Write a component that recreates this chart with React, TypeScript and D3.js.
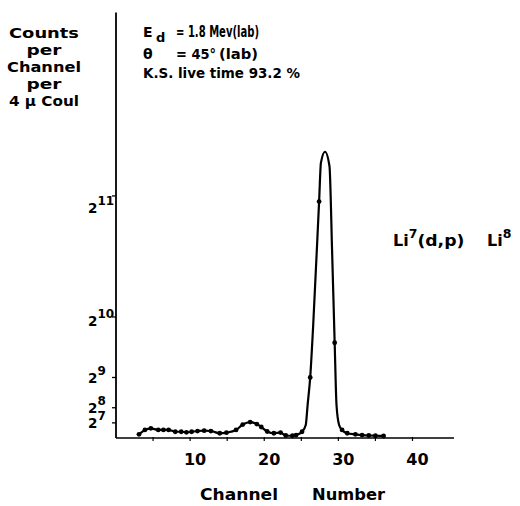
import React from "react";
import * as d3 from "d3";

// Measured data points (channel, counts per channel per 4 µCoul)
const dotChannels = [3.1, 3.9, 4.7, 5.7, 6.4, 7.1, 8.0, 8.8, 9.5, 10.2, 11.0, 11.9, 12.8, 14.0, 14.9, 16.2, 17.1, 18.1, 19.0, 19.6, 20.4, 21.3, 22.2, 22.9, 23.8, 24.3, 25.1, 26.2, 27.4, 29.5, 30.5, 31.2, 32.3, 33.2, 34.1, 35.0, 36.1];
const dotCounts = [31, 68, 82, 68, 68, 68, 53, 53, 48, 53, 59, 62, 59, 40, 45, 68, 114, 135, 118, 93, 55, 40, 46, 21, 19, 25, 53, 512, 2000, 806, 68, 40, 31, 25, 21, 19, 17];

// Extra points of the hand-drawn fitted curve around the main peak
const fitChannels = [25.6, 25.85, 26.6, 27.65, 28.2, 28.8, 29.15, 29.75, 30.1];
const fitCounts = [110, 279, 950, 2330, 2422, 2300, 1590, 279, 110];

const yTickValues = [128, 256, 512, 1024, 2048];
const yTickExponents = ["7", "8", "9", "10", "11"];
const xTickValues = [5, 10, 15, 20, 25, 30, 35, 40];
const xLabelValues = [10, 20, 30, 40];

const yTitleLines = ["Counts", "per", "Channel", "per", "4 \u03bc Coul"];
const xTitle = ["Channel", "Number"];

const W = 520;
const H = 506;
const FONT = "'DejaVu Sans', 'Open Sans', sans-serif";
const COND = "'DejaVu Sans Condensed', 'Liberation Sans Narrow', 'DejaVu Sans', sans-serif";

export default function App() {
  const x = d3.scaleLinear().domain([0, 45.6]).range([116, 454]);
  const y = d3.scaleLinear().domain([0, 3600]).range([438, 12.5]);

  const dots = dotChannels.map((c, i) => ({ c, v: dotCounts[i] }));
  const fit = dots
    .concat(fitChannels.map((c, i) => ({ c, v: fitCounts[i] })))
    .sort((a, b) => a.c - b.c);

  const line = d3
    .line<{ c: number; v: number }>()
    .x((d) => x(d.c))
    .y((d) => y(d.v))
    .curve(d3.curveMonotoneX);

  const x0 = x(0);
  const y0 = y(0);

  const titleY = [38, 55, 72, 89, 106];
  const titleW = [70, 35, 74, 35, 70];

  return (
    <svg
      width={W}
      height={H}
      style={{ position: "absolute", left: 0, top: 0, background: "#fff" }}
      fontFamily={FONT}
    >
      <rect width={W} height={H} fill="#fff" />
      {/* axes */}
      <line x1={x0} y1={y(3600)} x2={x0} y2={y0} stroke="#000" strokeWidth={1.8} />
      <line x1={x0} y1={y0} x2={x(45.6)} y2={y0} stroke="#000" strokeWidth={1.6} />

      {/* y ticks and labels */}
      {yTickValues.map((v, i) => {
        const off = Math.max(5.5, 0.072 * (y0 - y(v)));
        return (
          <g key={"yt" + v}>
            <line x1={x0 - 4} x2={x0} y1={y(v)} y2={y(v)} stroke="#000" strokeWidth={1.3} />
            <text x={x0 - 28} y={y(v) + off} fontSize={13.5} fontWeight="bold" fill="#000">
              2
              <tspan dy={-8} fontSize={12}>
                {yTickExponents[i]}
              </tspan>
            </text>
          </g>
        );
      })}

      {/* x ticks */}
      {xTickValues.map((v) => (
        <line key={"xt" + v} x1={x(v)} x2={x(v)} y1={y0 - 1} y2={y0 + 3} stroke="#000" strokeWidth={1.2} />
      ))}
      {xLabelValues.map((v) => (
        <text
          key={"xl" + v}
          x={x(v) + 5}
          y={465}
          textAnchor="middle"
          fontSize={16}
          fontWeight="bold"
          fill="#000"
        >
          {v}
        </text>
      ))}

      {/* fitted curve */}
      <path d={line(fit) || ""} fill="none" stroke="#000" strokeWidth={2.2} />
      {dots.map((d, i) => (
        <circle key={"d" + i} cx={x(d.c)} cy={y(d.v)} r={2.4} fill="#000" />
      ))}

      {/* y title */}
      {yTitleLines.map((t, i) => (
        <text
          key={"yl" + i}
          x={44 - titleW[i] / 2}
          y={titleY[i]}
          textLength={titleW[i]}
          lengthAdjust="spacingAndGlyphs"
          fontSize={14}
          fontWeight="bold"
          fill="#000"
        >
          {t}
        </text>
      ))}

      {/* annotations */}
      <text x={143} y={37} fontSize={14} fontWeight="bold" fill="#000">E</text>
      <text x={156} y={42} fontSize={13} fontWeight="bold" fill="#000">d</text>
      <text x={176} y={37} fontFamily={COND} textLength={83} lengthAdjust="spacingAndGlyphs" fontSize={15.5} fontWeight="bold" fill="#000">
        = 1.8 Mev(lab)
      </text>
      <text x={143} y={59} fontSize={14} fontWeight="bold" fill="#000">{"\u03b8"}</text>
      <text x={176} y={59} fontFamily={COND} textLength={40} lengthAdjust="spacingAndGlyphs" fontSize={14.5} fontWeight="bold" fill="#000">
        = 45°
      </text>
      <text x={219} y={59} fontFamily={COND} textLength={39} lengthAdjust="spacingAndGlyphs" fontSize={14.5} fontWeight="bold" fill="#000">
        (lab)
      </text>
      <text x={143} y={78} fontFamily={COND} textLength={157} lengthAdjust="spacingAndGlyphs" fontSize={14} fontWeight="bold" fill="#000">
        K.S. live time 93.2 %
      </text>

      <text x={393} y={246} fontSize={16} fontWeight="bold" fill="#000">
        Li<tspan dy={-8} fontSize={12.5}>7</tspan>
        <tspan dy={8} textLength={47} lengthAdjust="spacingAndGlyphs">(d,p)</tspan>
      </text>
      <text x={487} y={246} fontSize={16} fontWeight="bold" fill="#000">
        Li<tspan dy={-8} fontSize={12.5}>8</tspan>
      </text>

      {/* x title */}
      <text x={200} y={500} textLength={78} lengthAdjust="spacingAndGlyphs" fontSize={15} fontWeight="bold" fill="#000">
        {xTitle[0]}
      </text>
      <text x={312} y={500} textLength={73} lengthAdjust="spacingAndGlyphs" fontSize={15} fontWeight="bold" fill="#000">
        {xTitle[1]}
      </text>
    </svg>
  );
}
